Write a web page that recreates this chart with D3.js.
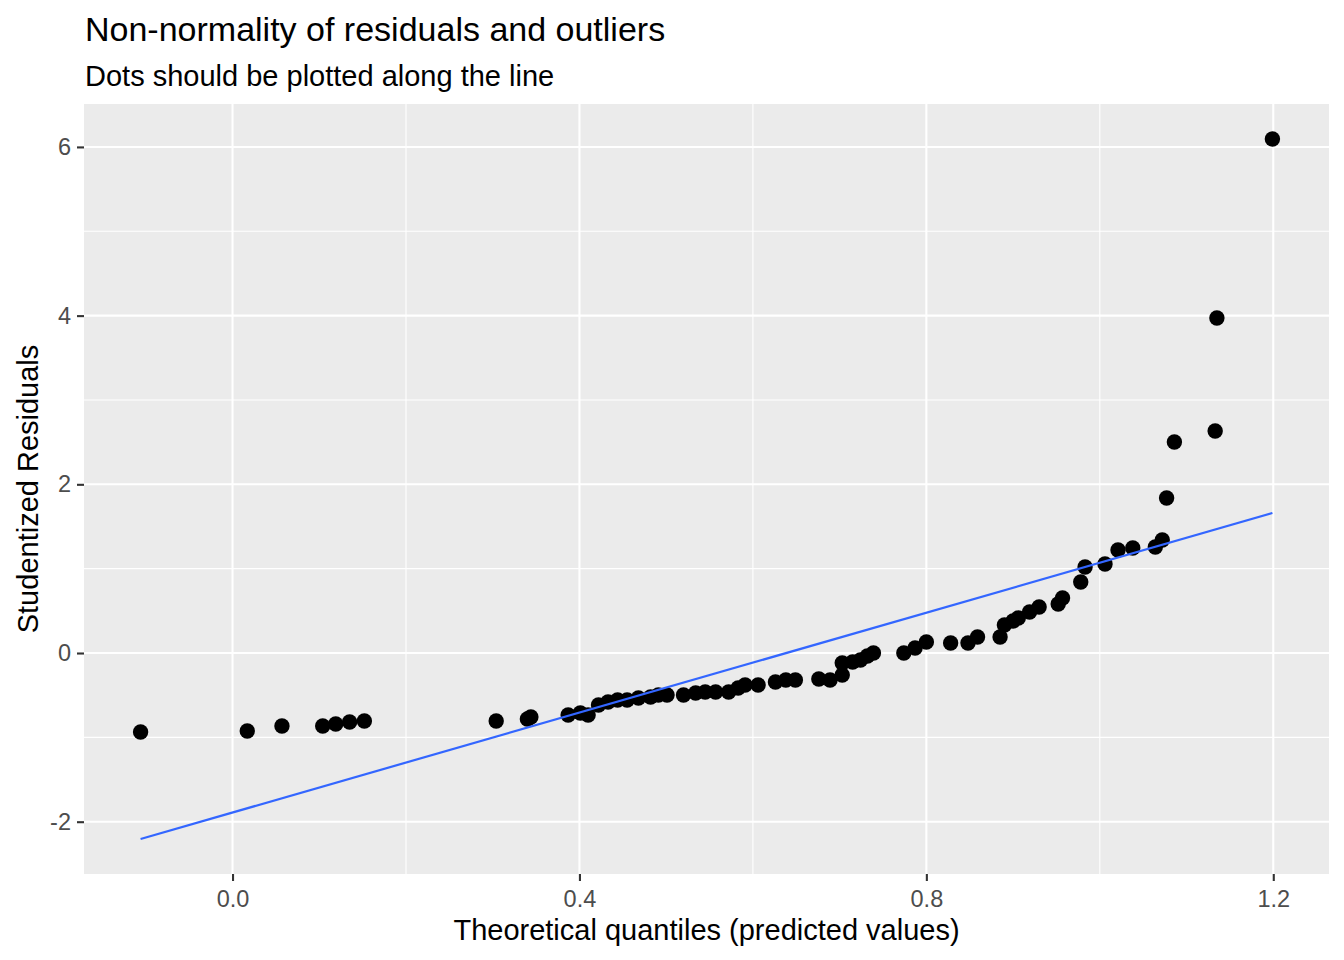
<!DOCTYPE html>
<html>
<head>
<meta charset="utf-8">
<script src="https://cdn.jsdelivr.net/npm/d3@7"></script>
<style>
  body { margin: 0; background: #fff; }
  svg { font-family: "Liberation Sans", Arial, sans-serif; }
  .axis text { fill: #4d4d4d; font-size: 23.5px; }
  .axis line { stroke: #333333; stroke-width: 2.1px; }
</style>
</head>
<body>
<div id="chart-area"></div>
<script>
// qq points (theoretical quantile, studentized residual)
const qqX = [-0.106, 0.017, 0.057, 0.104, 0.119, 0.135, 0.152, 0.304, 0.340, 0.344,
  0.387, 0.401, 0.410, 0.422, 0.433, 0.444, 0.455, 0.468, 0.482, 0.491,
  0.501, 0.520, 0.534, 0.545, 0.557, 0.572, 0.583, 0.591, 0.606, 0.626,
  0.638, 0.649, 0.676, 0.689, 0.703, 0.703, 0.715, 0.724, 0.732, 0.739,
  0.774, 0.787, 0.800, 0.828, 0.848, 0.859, 0.885, 0.890, 0.900, 0.906,
  0.919, 0.930, 0.952, 0.957, 0.978, 0.983, 1.006, 1.021, 1.038, 1.064,
  1.072, 1.077, 1.086, 1.133, 1.135, 1.199]
const qqY = [-0.937, -0.925, -0.865, -0.865, -0.842, -0.818, -0.806, -0.806, -0.782, -0.759,
  -0.735, -0.711, -0.735, -0.616, -0.581, -0.557, -0.557, -0.534, -0.522, -0.498,
  -0.498, -0.498, -0.474, -0.462, -0.462, -0.462, -0.415, -0.379, -0.379, -0.344,
  -0.320, -0.320, -0.308, -0.320, -0.261, -0.119, -0.107, -0.083, -0.036, 0.000,
  0.000, 0.059, 0.130, 0.119, 0.119, 0.190, 0.190, 0.332, 0.379, 0.415,
  0.486, 0.545, 0.581, 0.652, 0.842, 1.020, 1.055, 1.221, 1.245, 1.257,
  1.340, 1.838, 2.501, 2.632, 3.972, 6.094]

// fitted reference line
const lineX = [-0.106, 1.199]
const lineY = [-2.205, 1.660]

const xTicks = [0, 0.4, 0.8, 1.2]
const xMinor = [0.2, 0.6, 1.0]
const yTicks = [-2, 0, 2, 4, 6]
const yMinor = [-1, 1, 3, 5]

const MARGIN = { LEFT: 84, RIGHT: 15, TOP: 104, BOTTOM: 86 }
const WIDTH = 1344 - MARGIN.LEFT - MARGIN.RIGHT
const HEIGHT = 960 - MARGIN.TOP - MARGIN.BOTTOM

const svg = d3.select("#chart-area").append("svg")
  .attr("width", 1344)
  .attr("height", 960)

const g = svg.append("g")
  .attr("transform", `translate(${MARGIN.LEFT}, ${MARGIN.TOP})`)

// ggplot style 5% expansion
function expand(vals) {
  const [lo, hi] = d3.extent(vals)
  const pad = (hi - lo) * 0.05
  return [lo - pad, hi + pad]
}

const x = d3.scaleLinear()
  .domain(expand(qqX.concat(lineX)))
  .range([0, WIDTH])
const y = d3.scaleLinear()
  .domain(expand(qqY.concat(lineY)))
  .range([HEIGHT, 0])

// panel
g.append("rect")
  .attr("width", WIDTH)
  .attr("height", HEIGHT)
  .attr("fill", "#ebebeb")

// grid
g.selectAll(".minor-x").data(xMinor).enter().append("line")
  .attr("x1", d => x(d)).attr("x2", d => x(d))
  .attr("y1", 0).attr("y2", HEIGHT)
  .attr("stroke", "#fff").attr("stroke-width", 1.1)
g.selectAll(".minor-y").data(yMinor).enter().append("line")
  .attr("y1", d => y(d)).attr("y2", d => y(d))
  .attr("x1", 0).attr("x2", WIDTH)
  .attr("stroke", "#fff").attr("stroke-width", 1.1)
g.selectAll(".major-x").data(xTicks).enter().append("line")
  .attr("x1", d => x(d)).attr("x2", d => x(d))
  .attr("y1", 0).attr("y2", HEIGHT)
  .attr("stroke", "#fff").attr("stroke-width", 2.1)
g.selectAll(".major-y").data(yTicks).enter().append("line")
  .attr("y1", d => y(d)).attr("y2", d => y(d))
  .attr("x1", 0).attr("x2", WIDTH)
  .attr("stroke", "#fff").attr("stroke-width", 2.1)

// points
g.selectAll("circle")
  .data(qqX.map((d, i) => ({ x: d, y: qqY[i] })))
  .enter().append("circle")
    .attr("cx", d => x(d.x))
    .attr("cy", d => y(d.y))
    .attr("r", 7.7)
    .attr("fill", "#000")

// reference line
const line = d3.line()
  .x(d => x(d[0]))
  .y(d => y(d[1]))
g.append("path")
  .datum(lineX.map((d, i) => [d, lineY[i]]))
  .attr("d", line)
  .attr("fill", "none")
  .attr("stroke", "#3366ff")
  .attr("stroke-width", 2.2)

// X Axis
const xAxisCall = d3.axisBottom(x)
  .tickValues(xTicks)
  .tickSize(7)
  .tickPadding(8)
  .tickFormat(d3.format(".1f"))
g.append("g")
  .attr("class", "x axis")
  .attr("transform", `translate(0, ${HEIGHT})`)
  .call(xAxisCall)
  .call(a => a.select(".domain").remove())
  .selectAll("text").attr("dy", "0.75em")

// Y Axis
const yAxisCall = d3.axisLeft(y)
  .tickValues(yTicks)
  .tickSize(7)
  .tickPadding(6)
  .tickFormat(d => String(d))
g.append("g")
  .attr("class", "y axis")
  .call(yAxisCall)
  .call(a => a.select(".domain").remove())

// Labels
svg.append("text")
  .attr("x", 85)
  .attr("y", 41)
  .attr("font-size", "34px")
  .attr("fill", "#000")
  .text("Non-normality of residuals and outliers")
svg.append("text")
  .attr("x", 85)
  .attr("y", 86)
  .attr("font-size", "29px")
  .attr("fill", "#000")
  .text("Dots should be plotted along the line")
svg.append("text")
  .attr("x", MARGIN.LEFT + WIDTH / 2)
  .attr("y", 940)
  .attr("font-size", "29px")
  .attr("text-anchor", "middle")
  .text("Theoretical quantiles (predicted values)")
svg.append("text")
  .attr("transform", `translate(38, ${MARGIN.TOP + HEIGHT / 2}) rotate(-90)`)
  .attr("font-size", "29px")
  .attr("text-anchor", "middle")
  .text("Studentized Residuals")
</script>
</body>
</html>
